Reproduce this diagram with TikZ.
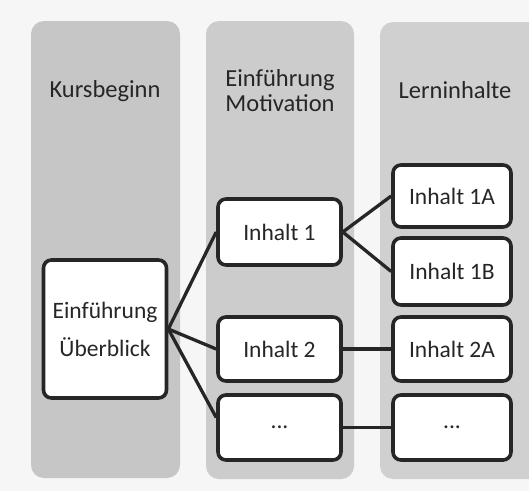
\documentclass[tikz,border=0pt]{standalone}
\usepackage{fontspec}
\setmainfont{Carlito}
\begin{document}
\begin{tikzpicture}[x=1pt,y=-1pt,
  lane/.style={fill=#1,draw=none,rounded corners=13pt},
  title/.style={align=center,font=\fontsize{24.5}{28}\selectfont,text=black!85},
  item/.style={draw=black!85,fill=white,line width=3.6pt,rounded corners=8pt,
    minimum width=#1,align=center,font=\fontsize{23.5}{28}\selectfont,text=black!85,inner sep=0pt},
  link/.style={draw=black!85,line width=3.3pt}]
  \useasboundingbox (0,0) rectangle (529,491);
  \fill[gray!7] (0,0) rectangle (529,491);
  % three lanes
  \begin{scope}
    \clip (0,0) rectangle (529,491);
    \path[lane=gray!45] (31,21) rectangle (180,478);
    \path[lane=gray!40] (206,21) rectangle (354,479);
    \path[lane=gray!37] (380,22) rectangle (545,479);
  \end{scope}
  % lane headings
  \node[title] (t1) at (105,91) {Kursbeginn};
  \node[title] (t2) at (280,91) {Einführung\\[-3pt]Motivation};
  \node[title] (t3) at (455,90) {Lerninhalte};
  % boxes
  \node[item=123pt,minimum height=138pt] (einf) at (105,329) {Einführung\\[10pt]Überblick};
  \node[item=123pt,minimum height=66pt] (i1) at (279.5,232) {Inhalt 1};
  \node[item=123pt,minimum height=64pt] (i2) at (279.5,349) {Inhalt 2};
  \node[item=123pt,minimum height=65pt] (d2) at (279.5,427.5) {...};
  \node[item=118pt,minimum height=62pt] (a1) at (452,196) {Inhalt 1A};
  \node[item=118pt,minimum height=67pt] (b1) at (452,271.5) {Inhalt 1B};
  \node[item=118pt,minimum height=64pt] (a2) at (452,349) {Inhalt 2A};
  \node[item=118pt,minimum height=65pt] (d3) at (452,427.5) {...};
  % connectors
  \draw[link] (einf.east) -- (i1.west);
  \draw[link] (einf.east) -- (i2.west);
  \draw[link] (einf.east) -- ([yshift=10pt]d2.west);
  \draw[link] (i1.east) -- (a1.west);
  \draw[link] (i1.east) -- (b1.west);
  \draw[link] (i2.east) -- (a2.west);
  \draw[link] (d2.east) -- (d3.west);
\end{tikzpicture}
\end{document}
